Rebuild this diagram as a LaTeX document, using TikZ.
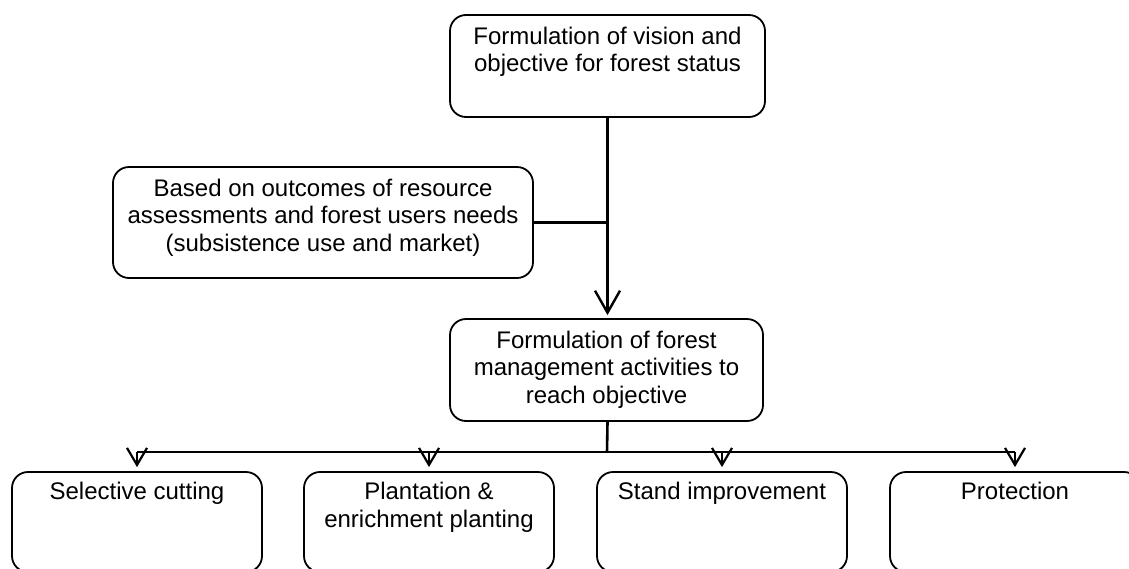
\documentclass[tikz,border=0pt]{standalone}
\usepackage{fontspec}
\setmainfont{Liberation Sans}
\usetikzlibrary{arrows.meta}
\begin{document}
\begin{tikzpicture}[x=1pt,y=-1pt,
  box/.style={draw,line width=1.8pt,rounded corners=16pt,inner sep=0pt,
    minimum width=#1,minimum height=102pt},
  box/.default=315pt,
  label/.style={anchor=north,inner sep=0pt,align=center,
    font=\fontsize{24}{27.6}\selectfont},
  conn/.style={line width=2.6pt},
  bigarrow/.style={conn,-{Straight Barb[length=22pt,width=25pt,line width=2.4pt]},shorten >=3pt},
  smallarrow/.style={line width=2.4pt,-{Straight Barb[length=17pt,width=20pt,line width=2.2pt]},shorten >=4pt}]
\useasboundingbox (0,0) rectangle (1129,568);
\clip (0,0) rectangle (1129,568);

% boxes
\node[box] (top) at (607.5,66) {};
\node[box=420pt,minimum height=111pt] (left) at (323,222.5) {};
\node[box=313pt] (mid) at (606.5,370) {};
\foreach \n/\x in {b1/137,b2/429,b3/722,b4/1015}
  \node[box=250pt,minimum height=100pt] (\n) at (\x,522) {};

% texts
\node[label] (toptext) at ([yshift=-12.5pt]top.north)
  {Formulation of vision and\\objective for forest status};
\node[label] (lefttext) at ([yshift=-12.5pt]left.north)
  {Based on outcomes of resource\\assessments and forest users needs\\(subsistence use and market)};
\node[label] (midtext) at ([yshift=-12.5pt]mid.north)
  {Formulation of forest\\management activities to\\reach objective};
\node[label] (t1) at ([yshift=-11pt]b1.north) {Selective cutting};
\node[label] (t2) at ([yshift=-11pt]b2.north) {Plantation \&\\enrichment planting};
\node[label] (t3) at ([yshift=-11pt]b3.north) {Stand improvement};
\node[label] (t4) at ([yshift=-11pt]b4.north) {Protection};

% connectors
\coordinate (join) at (top.south |- left.east);
\coordinate (bus) at (607,452);
\draw[bigarrow] (top.south) -- (top.south |- mid.north);
\draw[conn] (left.east) -- (join);
\draw[conn] (top.south |- mid.south) -- (bus);
\draw[conn] (b1.north |- bus) -- (b4.north |- bus);
\foreach \n in {b1,b2,b3,b4}
  \draw[smallarrow] (\n.north |- bus) -- (\n.north);
\end{tikzpicture}
\end{document}
